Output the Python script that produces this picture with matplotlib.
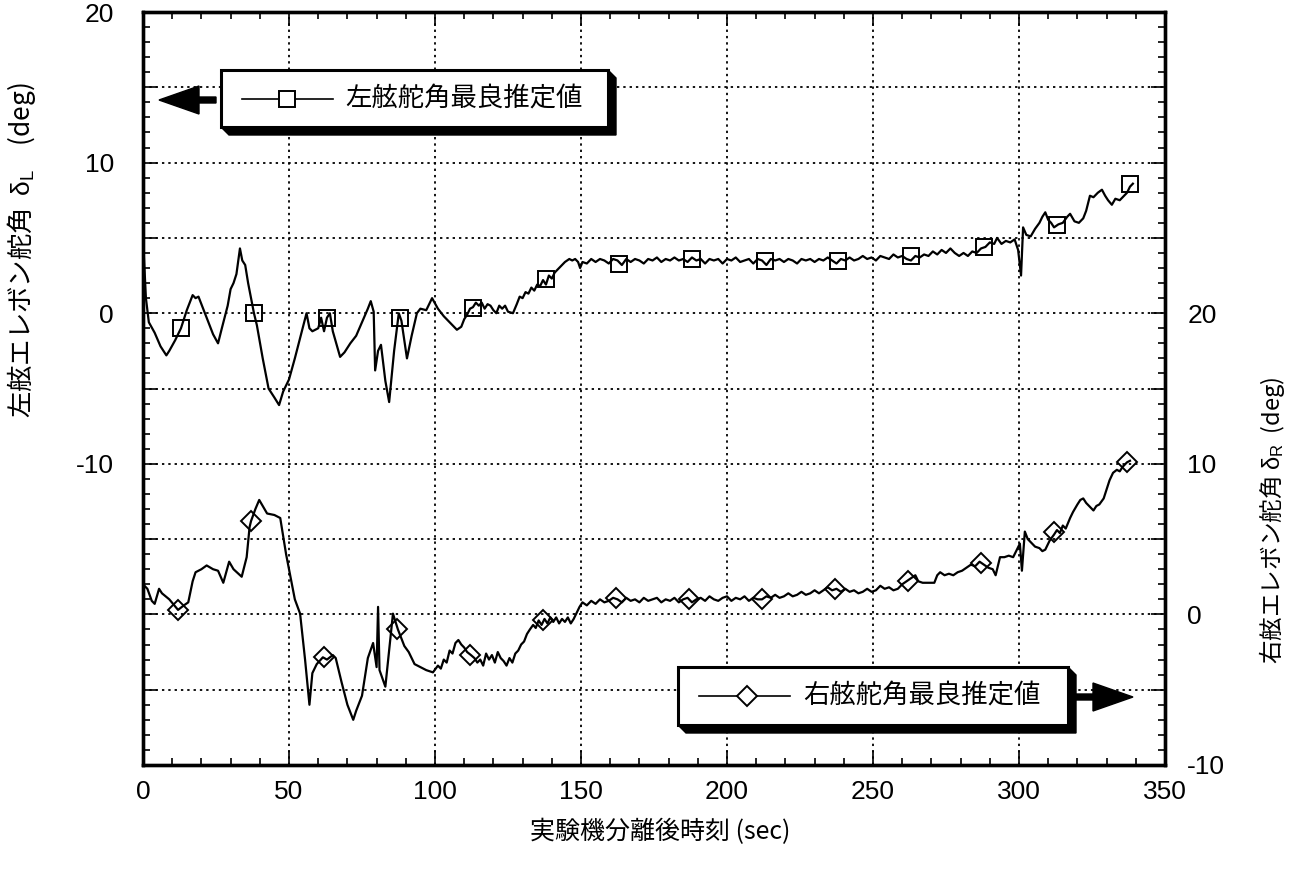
import numpy as np
import matplotlib
matplotlib.use('Agg')
import matplotlib.pyplot as plt
from matplotlib.ticker import MultipleLocator, FuncFormatter
from matplotlib.patches import Polygon
from matplotlib.lines import Line2D
from matplotlib.transforms import Affine2D

plt.rcParams['font.family'] = ['Liberation Sans', 'Noto Sans CJK JP', 'DejaVu Sans']
plt.rcParams['mathtext.fontset'] = 'custom'
plt.rcParams['mathtext.rm'] = 'Liberation Sans'
plt.rcParams['mathtext.it'] = 'Liberation Sans'

# ---------------- data ----------------
# left elevon angle (left axis): (time, deg)
left_points = [
    (0, 5.0), (1, 1.0), (2, -0.6), (4, -1.3), (6, -2.2), (8, -2.8), (9, -2.5), (11, -1.8),
    (13, -1.0), (15, 0.2), (17, 1.2), (18, 1.0), (19, 1.1), (20, 0.6), (22, -0.4),
    (24, -1.4), (25.7, -2.0), (27, -1.0), (29, 0.5), (30, 1.6), (31, 2.0), (32, 2.6),
    (33.2, 4.3), (34, 3.5), (35, 3.2), (36, 2.0), (37, 1.0), (38, 0.0), (39, -0.8),
    (41, -3.0), (43, -5.0), (45, -5.6), (46.6, -6.1), (48, -5.2), (50, -4.4), (52, -3.0),
    (54, -1.5), (56, 0.0), (57, -1.0), (58, -1.2), (60, -1.0), (61, -0.3), (62, -1.2),
    (63, -0.3), (64, 0.0), (65, -1.2), (67.5, -2.9), (69, -2.6), (71, -2.0), (73, -1.5),
    (75, -0.6), (77, 0.3), (78, 0.8), (79, 0.1), (79.5, -3.8), (80.5, -2.5), (81.5, -2.1),
    (83, -4.5), (84.3, -5.9), (86, -2.5), (87.6, 0.0), (88.5, -0.5), (90.4, -3.0),
    (92, -1.5), (93.8, 0.0), (95, 0.3), (97, 0.2), (99, 1.0), (101, 0.3), (103, -0.2),
    (105, -0.6), (107.5, -1.1), (109, -0.9), (110, -0.4), (111, -0.1), (112, 0.3),
    (113, 0.4), (114, 0.7), (115, 0.5), (116, 0.7), (117, 0.3), (118, 0.6), (119, 0.5),
    (120, 0.2), (121, 0.0), (122, 0.5), (123, 0.3), (124, 0.5), (125, 0.1), (126.7, 0.0),
    (128, 0.6), (129, 1.1), (130, 1.0), (131, 1.4), (132, 1.3), (133, 1.7), (134, 1.5),
    (135, 1.9), (136, 1.8), (137, 2.2), (138, 1.9), (139, 2.5), (140, 2.3), (141, 2.7),
    (142, 2.9), (143, 3.1), (144.5, 3.4), (146, 3.6), (147, 3.5), (148, 3.6), (149, 3.4),
    (149.7, 3.0), (150.5, 3.4), (152, 3.3), (153.5, 3.6), (155, 3.4), (156.5, 3.6),
    (158, 3.5), (159.5, 3.3), (161, 3.6), (162.5, 3.5), (164, 3.2), (165.5, 3.6),
    (167, 3.4), (168.5, 3.6), (170, 3.5), (171.5, 3.3), (173, 3.6), (174.5, 3.5),
    (176, 3.7), (177.5, 3.4), (179, 3.6), (180.5, 3.5), (182, 3.7), (183.5, 3.5),
    (185, 3.6), (186.5, 3.4), (188, 3.7), (189.5, 3.5), (191, 3.6), (192.5, 3.3),
    (194, 3.6), (195.5, 3.5), (197, 3.6), (198.5, 3.3), (200, 3.6), (201.5, 3.5),
    (203, 3.7), (204.5, 3.4), (206, 3.5), (207.5, 3.6), (209, 3.3), (210.5, 3.6),
    (212, 3.5), (213.5, 3.2), (215, 3.6), (216.5, 3.5), (218, 3.6), (219.5, 3.4),
    (221, 3.6), (222.5, 3.5), (224, 3.3), (225.5, 3.6), (227, 3.5), (228.5, 3.6),
    (230, 3.4), (231.5, 3.6), (233, 3.5), (234.5, 3.7), (236, 3.5), (237.5, 3.3),
    (239, 3.6), (240.5, 3.5), (242, 3.7), (243.5, 3.5), (245, 3.6), (246.5, 3.8),
    (248, 3.6), (249.5, 3.7), (251, 3.5), (252.5, 3.8), (254, 3.7), (255.5, 3.6),
    (257, 3.9), (258.5, 3.7), (260, 3.8), (261.5, 3.6), (263, 3.5), (264.5, 3.8),
    (266, 3.7), (267.5, 3.9), (269, 3.8), (270.5, 4.1), (272, 3.9), (273.5, 4.2),
    (275, 4.0), (276.5, 4.3), (278, 4.0), (279.5, 3.8), (281, 4.0), (282.5, 3.8),
    (284, 4.1), (285.5, 4.0), (287, 4.3), (288.5, 4.4), (290, 4.7), (291.5, 4.6),
    (292.5, 5.0), (294, 4.6), (295.5, 4.8), (297, 4.7), (298.5, 4.9), (299.7, 4.2),
    (300.7, 2.5), (301.4, 5.7), (302.5, 5.2), (304, 5.1), (305.5, 5.6), (307, 6.0),
    (308, 6.4), (309, 6.7), (310, 6.2), (311, 6.0), (312, 5.7), (313.5, 5.9), (315, 6.0),
    (316.5, 6.4), (317.5, 6.6), (319, 6.1), (320.5, 6.0), (322, 6.3), (323, 6.8),
    (324.3, 7.8), (325.5, 7.7), (327, 8.0), (328.4, 8.2), (329.5, 7.8), (330.5, 7.5),
    (331.8, 7.2), (333, 7.6), (334.5, 7.5), (336, 7.8), (337, 8.0), (338, 8.4), (339, 8.6),
]
left_mark_t = [13, 38, 63, 88, 113, 138, 163, 188, 213, 238, 263, 288, 313, 338]
left_mark_v = [-1.0, 0.0, -0.3, -0.3, 0.35, 2.25, 3.3, 3.6, 3.45, 3.45, 3.8, 4.4, 5.85, 8.6]

# right elevon angle (right axis): (time, deg)
right_points = [
    (0, 2.0), (1.5, 1.7), (3, 0.9), (4, 0.7), (5.5, 1.7), (6.5, 1.4), (9, 1.0), (12, 0.3),
    (14, 0.6), (15.5, 0.8), (17, 2.2), (18, 2.8), (20, 3.0), (21.8, 3.25), (24, 3.0),
    (25.7, 2.9), (27.5, 2.1), (29.5, 3.5), (31, 3.0), (33.8, 2.5), (35.5, 3.8), (36.5, 5.8),
    (37, 6.2), (38.5, 7.0), (39.8, 7.6), (41, 7.2), (42.5, 6.7), (45, 6.6), (47, 6.4),
    (49, 4.0), (52, 1.0), (53.8, 0.05), (55.5, -3.0), (57, -6.0), (58, -3.9), (59.5, -3.3),
    (61.6, -2.85), (63, -3.0), (65, -2.7), (66, -2.9), (68, -4.5), (70, -6.0), (72, -7.0),
    (73, -6.4), (75, -5.4), (77, -2.9), (78.8, -1.9), (80, -3.5), (80.5, 0.5), (81, -3.7),
    (83, -4.8), (85.6, 0.05), (87.3, -1.0), (89.5, -2.1), (91, -2.5), (93, -3.3),
    (95, -3.5), (97, -3.7), (99.3, -3.85), (101, -3.4), (102, -3.6), (103, -3.0),
    (104, -3.2), (105, -2.4), (106, -2.6), (107, -1.9), (108, -1.7), (109, -2.0),
    (110, -2.2), (111, -2.5), (112.3, -2.7), (113.5, -2.9), (114.5, -3.2), (115.5, -3.0),
    (116.5, -3.4), (117.5, -2.6), (118.5, -3.0), (119.5, -2.7), (120.5, -3.2),
    (121.5, -2.5), (122.5, -2.9), (123.5, -3.1), (124.5, -3.4), (125.5, -2.9),
    (126.5, -3.2), (127.5, -2.6), (128.5, -2.4), (129.5, -2.0), (130.5, -1.8),
    (131.5, -1.3), (132.5, -1.0), (133.6, -0.7), (134.5, -0.9), (135.5, -0.4),
    (136.5, -0.7), (137.5, -0.3), (138.5, -0.6), (139.5, -0.2), (140.5, -0.5),
    (141.5, -0.2), (142.5, -0.6), (143.5, -0.3), (144.5, -0.5), (145.5, -0.2),
    (146.5, -0.6), (147.5, -0.3), (148.5, 0.1), (149.5, 0.5), (150.5, 0.8), (152, 0.6),
    (153.5, 0.9), (155, 0.7), (156.5, 1.0), (158, 0.8), (159.5, 0.9), (161, 1.1),
    (162.5, 1.0), (164, 0.8), (165.5, 1.1), (167, 0.9), (168.5, 1.0), (170, 0.8),
    (171.5, 1.1), (173, 0.9), (174.5, 1.0), (176, 1.1), (177.5, 0.8), (179, 1.0),
    (180.5, 0.9), (182, 1.1), (183.5, 0.8), (185, 1.0), (186.5, 1.1), (188, 0.8),
    (189.5, 1.0), (191, 1.1), (192.5, 0.9), (194, 1.2), (195.5, 1.0), (197, 0.9),
    (198.5, 1.1), (200, 1.2), (201.5, 0.9), (203, 1.1), (204.5, 1.0), (206, 1.2),
    (207.5, 0.9), (209, 1.1), (210.5, 1.0), (212, 1.0), (213.5, 1.2), (215, 1.1),
    (216.5, 1.3), (218, 1.1), (219.5, 1.2), (221, 1.4), (222.5, 1.2), (224, 1.3),
    (225.5, 1.5), (227, 1.3), (228.5, 1.4), (230, 1.6), (231.5, 1.4), (233, 1.6),
    (234.5, 1.8), (236, 1.6), (237.5, 1.7), (239, 1.5), (240.5, 1.7), (242, 1.5),
    (243.5, 1.6), (245, 1.4), (246.5, 1.5), (248, 1.7), (249.5, 1.5), (251, 1.6),
    (252.5, 1.9), (254, 1.7), (255.5, 1.8), (257, 1.6), (258.5, 1.7), (260, 2.0),
    (261.5, 2.2), (263, 2.4), (264.5, 2.6), (265.5, 2.2), (267, 2.1), (269, 2.1),
    (271, 2.1), (272, 2.6), (273, 2.8), (274.5, 2.6), (276, 2.7), (277.5, 2.6),
    (279, 2.8), (280.5, 2.9), (282, 3.1), (283.5, 3.3), (285, 3.2), (286.5, 3.5),
    (288, 3.3), (289.5, 3.1), (291, 3.0), (292, 2.6), (293.5, 3.8), (295, 3.8),
    (296.5, 3.9), (298, 3.8), (299.3, 4.3), (300.3, 4.7), (301, 2.9), (302, 5.5),
    (303, 5.0), (304.5, 4.7), (305.5, 4.5), (307, 4.4), (308, 4.2), (309, 4.3),
    (310.5, 4.9), (312, 5.3), (313, 5.6), (314, 5.4), (315, 5.9), (316, 5.7), (317.5, 6.4),
    (318.5, 6.8), (320, 7.3), (321, 7.6), (322, 7.7), (323, 7.4), (324, 7.2), (325.5, 6.9),
    (326.5, 7.2), (327.5, 7.3), (329, 7.7), (330, 8.3), (331, 8.9), (332.2, 9.4),
    (333.5, 9.6), (334.5, 9.5), (335.5, 9.8), (337, 10.1), (338, 10.2),
]
right_mark_t = [12, 37, 62, 87, 112, 137, 162, 187, 212, 237, 262, 287, 312, 337]
right_mark_v = [0.3, 6.2, -2.85, -1.0, -2.7, -0.4, 1.1, 1.0, 1.05, 1.7, 2.25, 3.4, 5.5, 10.1]

left_label_text = '左舷舵角最良推定値'
right_label_text = '右舷舵角最良推定値'
x_label = '実験機分離後時刻 (sec)'
left_ylabel = r'左舷エレボン舵角  $\delta_{\mathrm{L}}$    (deg)'
right_ylabel = r'右舷エレボン舵角 $\delta_{\mathrm{R}}$  (deg)'
x_ticks = [0, 50, 100, 150, 200, 250, 300, 350]
left_labeled = [20, 10, 0, -10]
right_labeled = [-10, 0, 10, 20]

left_t = [p[0] for p in left_points]
left_v = [p[1] for p in left_points]
right_t = [p[0] for p in right_points]
right_v = [p[1] for p in right_points]

# ---------------- figure ----------------
W, H = 1302, 881
fig = plt.figure(figsize=(W / 100, H / 100), dpi=100)
ax = fig.add_axes([143 / W, 1 - 765 / H, (1165 - 143) / W, (765 - 12) / H])
ax2 = ax.twinx()

ax.set_xlim(0, 350)
ax.set_ylim(-30, 20)
ax2.set_ylim(-10, 40)

grid_kw = dict(color='black', linestyle=(0, (1.3, 2.2)), linewidth=1.3)
ax.xaxis.set_major_locator(MultipleLocator(50))
ax.xaxis.set_minor_locator(MultipleLocator(10))
ax.yaxis.set_major_locator(MultipleLocator(5))
ax.yaxis.set_minor_locator(MultipleLocator(1))
ax2.yaxis.set_major_locator(MultipleLocator(5))
ax2.yaxis.set_minor_locator(MultipleLocator(1))
ax.grid(True, which='major', **grid_kw)
ax.set_axisbelow(True)

ax.set_xticks(x_ticks)
ax.xaxis.set_major_formatter(FuncFormatter(lambda v, p: f'{int(round(v))}'))
ax.yaxis.set_major_formatter(FuncFormatter(
    lambda v, p: f'{int(round(v))}' if int(round(v)) in left_labeled else ''))
ax2.yaxis.set_major_formatter(FuncFormatter(
    lambda v, p: f'{int(round(v))}' if int(round(v)) in right_labeled else ''))

TL = 19
ax.tick_params(axis='x', which='both', direction='in', top=True, labelsize=TL, pad=11,
               width=1.2)
ax.tick_params(axis='x', which='major', length=10)
ax.tick_params(axis='x', which='minor', length=5)
ax.tick_params(axis='y', which='both', direction='in', labelsize=TL, pad=21, width=1.2)
ax.tick_params(axis='y', which='major', length=10)
ax.tick_params(axis='y', which='minor', length=5)
ax2.tick_params(axis='y', which='both', direction='in', labelsize=TL, pad=16, width=1.2)
ax2.tick_params(axis='y', which='major', length=10)
ax2.tick_params(axis='y', which='minor', length=5)

for a in (ax, ax2):
    for s in a.spines.values():
        s.set_linewidth(2.4)

# series
ax.plot(left_t, left_v, color='black', linewidth=1.6, zorder=3)
ax.plot(left_mark_t, left_mark_v, linestyle='none', marker='s', markersize=11,
        markerfacecolor='none', markeredgecolor='black', markeredgewidth=1.4, zorder=4)
ax2.plot(right_t, right_v, color='black', linewidth=1.6, zorder=3)
ax2.plot(right_mark_t, right_mark_v, linestyle='none', marker='D', markersize=10,
         markerfacecolor='none', markeredgecolor='black', markeredgewidth=1.4, zorder=4)

# axis labels
fig.text(660 / W, 1 - 832 / H, x_label, ha='center', va='center', fontsize=18,
         family=['Noto Sans CJK JP', 'Liberation Sans'])
fig.text(22 / W, 1 - 250 / H, left_ylabel, rotation=90, ha='center', va='center',
         fontsize=19, family=['Noto Sans CJK JP'])
fig.text(1272 / W, 1 - 520 / H, right_ylabel, rotation=90, ha='center', va='center',
         fontsize=17, family=['Noto Sans CJK JP'])

# pixel transform (y downward)
pix = Affine2D().scale(1 / W, -1 / H).translate(0, 1) + fig.transFigure


def legend_box(x0, y0, x1, y1, d, marker, mx, text, tx):
    shadow = Polygon([(x1, y0), (x1 + d, y0 + d), (x1 + d, y1 + d), (x0 + d, y1 + d),
                      (x0, y1)], closed=True, facecolor='black', edgecolor='black',
                     transform=pix, zorder=10)
    box = Polygon([(x0, y0), (x1, y0), (x1, y1), (x0, y1)], closed=True,
                  facecolor='white', edgecolor='black', linewidth=2.2, transform=pix,
                  zorder=11)
    fig.add_artist(shadow)
    fig.add_artist(box)
    yc = (y0 + y1) / 2
    fig.add_artist(Line2D([x0 + 21, x0 + 112], [yc, yc], color='black', linewidth=1.2,
                          transform=pix, zorder=12))
    fig.add_artist(Line2D([mx], [yc], marker=marker,
                          markersize=11 if marker == 's' else 10,
                          markerfacecolor='white', markeredgecolor='black',
                          markeredgewidth=1.4, transform=pix, zorder=13))
    fig.text(tx / W, 1 - yc / H, text, ha='left', va='center', fontsize=19,
             family=['Noto Sans CJK JP'], zorder=13)


legend_box(221, 70, 608, 127, 8, 's', 287, left_label_text, 345)
legend_box(678, 667, 1068, 725, 8, 'D', 747, right_label_text, 803)

# arrows
fig.add_artist(Polygon([(159, 100), (199, 86), (199, 97), (216, 97), (216, 103),
                        (199, 103), (199, 114)], closed=True, facecolor='black',
                       edgecolor='black', transform=pix, zorder=10))
fig.add_artist(Polygon([(1133, 697), (1093, 683), (1093, 694), (1076, 694), (1076, 700),
                        (1093, 700), (1093, 711)], closed=True, facecolor='black',
                       edgecolor='black', transform=pix, zorder=10))

fig.savefig('out.png', dpi=100)
